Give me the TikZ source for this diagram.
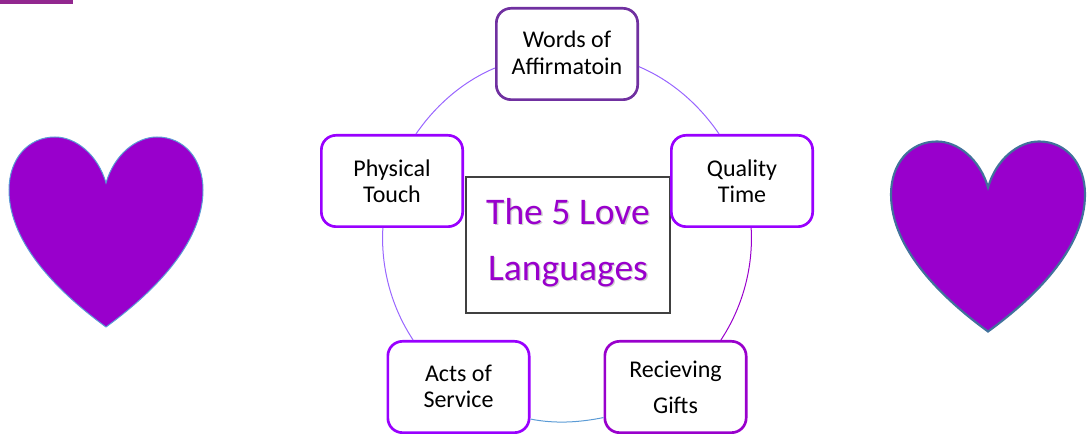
\documentclass[tikz,border=0pt]{standalone}
\usepackage{fontspec}
\setmainfont{Carlito}
\definecolor{heartfill}{HTML}{9900CC}
\definecolor{barfill}{HTML}{92278F}
\definecolor{brightpurple}{HTML}{9900FF}
\definecolor{deeppurple}{HTML}{7030A0}
\definecolor{lightarc}{HTML}{9966FF}
\definecolor{bluearc}{HTML}{5B9BD5}
\definecolor{heartedge}{HTML}{41719C}
\definecolor{frameline}{HTML}{404040}
\tikzset{
  x=0.75pt,y=0.75pt,
  langbox/.style={draw=brightpurple,line width=2pt,rounded corners=11pt,fill=white,
    minimum width=106pt,minimum height=68.5pt,inner sep=0pt,align=center,
    font=\fontsize{18}{19.5}\selectfont,text=black},
  arcline/.style={line width=0.75pt,looseness=0.87},
  titlefont/.style={font=\fontsize{28.2}{41.6}\selectfont,align=center},
  pics/heartshape/.style={code={
    \path[pic actions] (106,251)
      .. controls (114,279) and (136,297) .. (157,297)
      .. controls (184,297) and (203,275) .. (203,244)
      .. controls (203,189) and (150,139) .. (106,107)
      .. controls (62,139) and (9,189) .. (9,244)
      .. controls (9,275) and (28,297) .. (55,297)
      .. controls (76,297) and (98,279) .. (106,251) -- cycle;
  }}
}
\begin{document}
\begin{tikzpicture}
\useasboundingbox (0,0) rectangle (1087,434);
% top-left bar
\fill[barfill] (0,429.5) rectangle (73,434);
% hearts
\pic[fill=heartfill,draw=bluearc,line width=0.75pt] {heartshape};
\pic[fill=heartfill,draw=heartedge,line width=1.6pt,shift={(882,-4.5)}] {heartshape};
% centre
\node[draw=frameline,line width=0.85pt,minimum width=153pt,minimum height=102pt,inner sep=0pt] (title) at (568,189) {};
\node[titlefont,text=black!18,xshift=1pt,yshift=-1pt] (titleshadow) at (568,191.5) {The 5 Love\\Languages};
\node[titlefont,text=heartfill] (titletext) at (568,191.5) {The 5 Love\\Languages};
% language boxes
\node[langbox,draw=deeppurple] (w) at (567,380) {Words of\\[0.5pt]Affirmatoin\rule[-2pt]{0pt}{0pt}};
\node[langbox] (q) at (742,253) {Quality\\Time};
\node[langbox,draw=heartfill] (r) at (675.5,47) {Recieving\\[7.5pt]Gifts};
\node[langbox] (a) at (458.5,47) {Acts of\\Service\rule[-1.5pt]{0pt}{0pt}};
\node[langbox] (p) at (392,253) {Physical\\Touch};
% ring arcs
\draw[arcline,lightarc] (w.-10.2) to[out=-23,in=124.4] (q.116.6);
\draw[arcline,heartfill] (q.-79) to[out=-86.7,in=56.5] (r.46.6);
\draw[arcline,bluearc] (r.203.4) to[out=191.4,in=-11.4] (a.-24);
\draw[arcline,lightarc] (a.134.1) to[out=123.5,in=266.7] (p.259);
\draw[arcline,lightarc] (p.63.9) to[out=55.4,in=202.8] (w.191);
\end{tikzpicture}
\end{document}
